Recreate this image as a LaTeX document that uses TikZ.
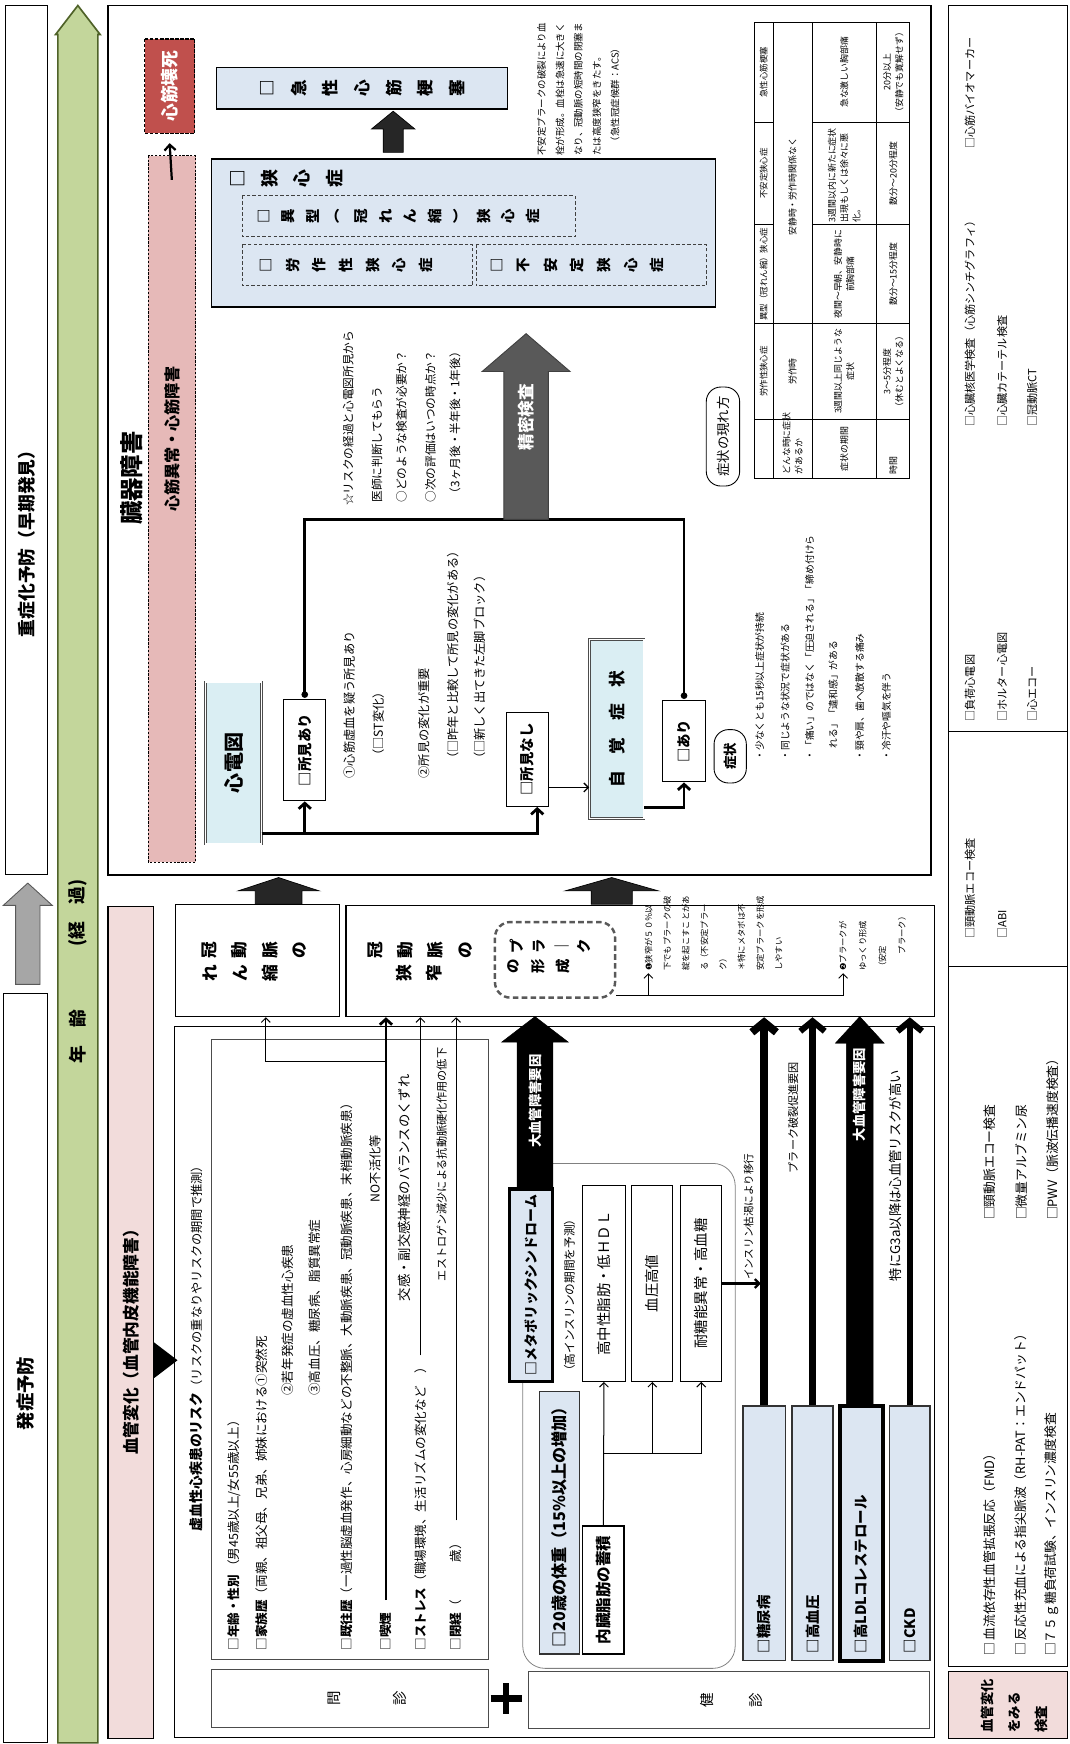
\documentclass[tikz,border=0pt]{standalone}
\usepackage{fontspec}
\setmainfont{Noto Sans CJK JP}
\newfontfamily\dejavu{DejaVu Sans}
\usetikzlibrary{arrows.meta}

\definecolor{hakoblue}{HTML}{DCE6F2}
\definecolor{hakocyan}{HTML}{DAEEF3}
\definecolor{kekkanpink}{HTML}{F2DCDB}
\definecolor{shinkinpink}{HTML}{E6B9B8}
\definecolor{eshired}{HTML}{C0504D}
\definecolor{keikagreen}{HTML}{C3D69B}
\definecolor{keikaline}{HTML}{4F6228}
\definecolor{yajigray}{HTML}{A6A6A6}
\definecolor{yajidark}{HTML}{262626}
\definecolor{seimitsu}{HTML}{595959}

\newcommand\fs[2]{\fontsize{#1}{#2}\selectfont}
\makeatletter
% 縦書きの文字列 {字送り}{文字}
\newcommand\tatechars[2]{\vbox{\offinterlineskip\@tfor\tt@ch:=#2\do{\vbox to #1{\vss\hbox to 1.2em{\hss\tt@ch\hss}\vss}}}}
\makeatother
% 箱矢印 [様式]{根元}{先端}{中心}{軸の半幅}{頭の半幅}{頭の長さ}
\newcommand\yajirushi[7][]{\filldraw[#1] (#2,#4-#5) -- (#3-#7,#4-#5) -- (#3-#7,#4-#6) -- (#3,#4) -- (#3-#7,#4+#6) -- (#3-#7,#4+#5) -- (#2,#4+#5) -- cycle;}

\begin{document}
\begin{tikzpicture}[x=1pt, y=-1pt, rotate=90, transform shape,
  >={Straight Barb[length=4pt,width=8pt]},
  waku/.style={draw, inner sep=0pt},
  moji/.style={inner sep=1pt, anchor=west},
  futosen/.style={line width=2.5pt},
  futoya/.style={line width=2.5pt, -{Straight Barb[length=5pt,width=11pt]}},
  gokubuto/.style={line width=5.5pt, -{Straight Barb[length=9pt,width=22pt]}},
  hoso/.style={line width=0.9pt, ->},
  tensen/.style={draw=black!75, dashed, dash pattern=on 3pt off 2pt, line width=0.7pt, inner sep=0pt},
  nijuu/.style={draw=black!70, double, double distance=1.3pt, line width=0.5pt, inner sep=0pt},
  hyo/.style={inner sep=0pt, font={\fs{8}{11}}, align=center}]

\useasboundingbox (0,0) rectangle (1568,962);

% 左の帯：重症化予防と発症予防
\node[waku, line width=0.8pt, minimum width=781pt, minimum height=38pt] (jushoka) at (1172.5,24) {};
\node[font={\fs{16}{16}\bfseries}] (jushokaT) at (1083,24) {重症化予防（早期発見）};
\yajirushi[fill=yajigray, draw=seimitsu, line width=0.8pt]{683}{774}{25}{11}{22}{20}
\node[waku, line width=0.8pt, minimum width=674pt, minimum height=40pt] (hassho) at (338,23) {};
\node[font={\fs{16.5}{16.5}\bfseries}] (hasshoT) at (315,23) {発症予防};

% 年齢（経過）の矢印
\yajirushi[fill=keikagreen, draw=keikaline, line width=1.5pt]{1}{1563}{70}{18}{20}{26}
\node[font={\fs{16}{16}\bfseries}] (nenrei) at (636,70) {年　齢};
\node[font={\fs{16}{16}\bfseries}] (keika) at (747,70) {(経　過)};

% 臓器障害の枠
\node[waku, line width=1.6pt, minimum width=782pt, minimum height=740pt] (zoki) at (1172,467) {};
\node[font={\fs{21}{21}\bfseries}] (zokiT) at (1138,118) {臓器障害};
\node[draw, dashed, dash pattern=on 2pt off 1.5pt, line width=0.6pt, fill=shinkinpink, inner sep=0pt,
  minimum width=635pt, minimum height=43pt] (shinkin) at (1110.5,154.5) {};
\node[font={\fs{14.5}{14.5}\bfseries}] (shinkinT) at (1173,155) {心筋異常・心筋障害};
\node[draw, dashed, dash pattern=on 3pt off 1.5pt, line width=1.5pt, fill=eshired, text=white, inner sep=0pt,
  minimum width=85pt, minimum height=45pt, font={\fs{16}{16}\bfseries}] (eshi) at (1490.5,152.5) {心筋壊死};
\draw[line width=2pt, -{Straight Barb[length=5pt,width=10pt]}] ([xshift=-22pt]shinkin.east) -- ([xshift=-8pt]eshi.west);

% 急性心筋梗塞と狭心症
\node[waku, line width=1pt, fill=hakoblue, minimum width=37pt, minimum height=261pt,
  font={\fs{15}{15}\bfseries}] (kyusei) at (1488.5,325.5) {\tatechars{28.5pt}{□急性心筋梗塞}};
\yajirushi[fill=yajidark, draw=black, line width=0.6pt]{1431}{1468}{353.5}{9}{19.5}{16}
\node[waku, line width=1.2pt, fill=hakoblue, minimum width=133pt, minimum height=453pt] (kyoshin) at (1358.5,416.5) {};
\node[font={\fs{16}{16}\bfseries}] (kyoshinT) at (1407,257) {\tatechars{29pt}{□狭心症}};
\node[tensen, minimum width=37pt, minimum height=299pt] (ikei) at (1373.5,367.5) {};
\node[font={\fs{13}{13}\bfseries}] (ikeiT) at (1373.5,358) {\tatechars{22pt}{□異型︵冠れん縮︶狭心症}};
\node[tensen, minimum width=37pt, minimum height=207pt] (rosaku) at (1329.5,321.5) {};
\node[font={\fs{13}{13}\bfseries}] (rosakuT) at (1329.5,311) {\tatechars{24pt}{□労作性狭心症}};
\node[tensen, minimum width=37pt, minimum height=207pt] (fuantei) at (1329.5,531.5) {};
\node[font={\fs{13}{13}\bfseries}] (fuanteiT) at (1329.5,519) {\tatechars{24pt}{□不安定狭心症}};

% 不安定プラークの説明
\node[font={\fs{8.5}{16.5}}, align=left, anchor=west, inner sep=0pt] (acs) at (1428,520)
  {不安定プラークの破裂により血\\栓が形成。血栓は急速に大きく\\なり、冠動脈の短時間の閉塞ま\\たは高度狭窄をきたす。\\　（急性冠症候群：ACS）};

% 症状の現れ方の表
\draw[line width=1pt] (1138,678) rectangle (1548,818);
\foreach \v in {695,730,788} \draw[line width=0.7pt] (1138,\v) -- (1548,\v);
\foreach \u in {1191,1277} \draw[line width=0.7pt] (\u,678) -- (\u,818);
\foreach \u in {1366,1458} {\draw[line width=0.7pt] (\u,678) -- (\u,695); \draw[line width=0.7pt] (\u,730) -- (\u,818);}
\node[hyo, font={\fs{7.6}{10}}] (h1) at (1234,686.5) {労作性狭心症};
\node[hyo, font={\fs{7.6}{10}}] (h2) at (1321.5,686.5) {異型（冠れん縮）狭心症};
\node[hyo, font={\fs{7.6}{10}}] (h3) at (1412,686.5) {不安定狭心症};
\node[hyo, font={\fs{7.6}{10}}] (h4) at (1503,686.5) {急性心筋梗塞};
\node[hyo, anchor=west, align=left] (r1a) at (1141,712.5) {どんな時に症状\\があるか};
\node[hyo] (r1b) at (1234,712.5) {労作時};
\node[hyo] (r1c) at (1400,712.5) {安静時・労作時関係なく};
\node[hyo] (r2a) at (1164.5,759) {症状の期間};
\node[hyo] (r2b) at (1234,759) {3週間以上同じような\\症状};
\node[hyo] (r2c) at (1321.5,759) {夜間～早朝、安静時に\\前胸部痛};
\node[hyo, anchor=west, align=left] (r2d) at (1368,759) {3週間以内に新たに症状\\出現もしくは徐々に悪\\化。};
\node[hyo] (r2e) at (1503,759) {急な激しい胸部痛};
\node[hyo, anchor=west] (r3a) at (1141,803) {時間};
\node[hyo] (r3b) at (1234,803) {3～5分程度\\（休むとよくなる）};
\node[hyo] (r3c) at (1321.5,803) {数分～15分程度};
\node[hyo] (r3d) at (1412,803) {数分～20分程度};
\node[hyo] (r3e) at (1503,803) {20分以上\\（安静でも寛解せず）};
\node[draw, rounded corners=13pt, line width=0.8pt, inner sep=0pt, minimum width=89pt, minimum height=30pt,
  font={\fs{12}{12}}] (arawarekata) at (1175.5,650) {症状の現れ方};

% 心電図と自覚症状
\node[nijuu, fill=hakocyan, minimum width=146pt, minimum height=50pt, font={\fs{18}{18}\bfseries}] (ecg) at (882,210) {心電図};
\node[waku, line width=1pt, minimum width=91pt, minimum height=38pt, font={\fs{13}{13}\bfseries}] (shokenari) at (893.5,274) {□所見あり};
\node[waku, line width=1pt, minimum width=84pt, minimum height=38pt, font={\fs{13}{13}\bfseries}] (shokennashi) at (885,474) {□所見なし};
\node[nijuu, fill=hakocyan, minimum width=161pt, minimum height=49pt, font={\fs{15}{15}\bfseries}] (jikaku) at (912.5,554.5) {自　覚　症　状};
\node[waku, line width=1pt, minimum width=73pt, minimum height=38pt, font={\fs{13}{13}\bfseries}] (ari) at (901.5,615) {□あり};
\node[draw, rounded corners=13pt, line width=0.8pt, inner sep=0pt, minimum width=48pt, minimum height=29pt,
  font={\fs{12}{12}\bfseries}] (shojo) at (888,656.5) {症状};

\coordinate (ecgout) at ([xshift=10pt]ecg.south west);
\draw[futoya] (ecgout) |- (shokenari.west);
\draw[futoya] (ecgout) |- ([yshift=-9pt]shokennashi.west);
\coordinate (nashiout) at ([xshift=-25pt]shokennashi.south);
\draw[line width=1.2pt, ->] (nashiout) -- (nashiout |- jikaku.north);
\coordinate (jikakuout) at ([xshift=-70.5pt]jikaku.south);
\draw[futoya] (jikakuout) |- (ari.west);

% 精密検査へ
\coordinate (dotA) at ([xshift=4pt]shokenari.east);
\coordinate (dotB) at ([xshift=4pt]ari.east);
\coordinate (seimitsuA) at (1101,274);
\coordinate (seimitsuB) at (1101,615);
\fill (dotA) circle (3pt);
\fill (dotB) circle (3pt);
\draw[futosen] (dotA) -- (seimitsuA) -- (seimitsuB) -- (dotB);
\yajirushi[fill=seimitsu, draw=black!75, line width=0.8pt]{1101}{1268}{473}{20}{39.5}{34}
\node[text=white, font={\fs{15}{15}\bfseries}] (seimitsuT) at (1193,473) {精密検査};

\node[moji, font={\fs{11}{11}}] (m1) at (867,314) {①心筋虚血を疑う所見あり};
\node[moji, font={\fs{11}{11}}] (m2) at (882,340) {（□ST変化）};
\node[moji, font={\fs{11}{11}}] (m3) at (867,381) {②所見の変化が重要};
\node[moji, font={\fs{11}{11}}] (m4) at (879,407) {（□昨年と比較して所見の変化がある）};
\node[moji, font={\fs{11}{11}}] (m5) at (879,431) {（□新しく出てきた左脚ブロック）};
\node[moji, font={\fs{10.5}{10.5}}] (k1) at (1112,313) {☆リスクの経過と心電図所見から};
\node[moji, font={\fs{10.5}{10.5}}] (k2) at (1115,339) {医師に判断してもらう};
\node[moji, font={\fs{10.5}{10.5}}] (k3) at (1115,361) {○どのような検査が必要か？};
\node[moji, font={\fs{10.5}{10.5}}] (k4) at (1115,387) {○次の評価はいつの時点か？};
\node[moji, font={\fs{10.5}{10.5}}] (k5) at (1118,409) {（3ヶ月後・半年後・1年後）};

\node[moji, font={\fs{8.8}{8.8}}] (s1) at (883,683) {・少なくとも15秒以上症状が持続};
\node[moji, font={\fs{8.8}{8.8}}] (s2) at (883,706) {・同じような状況で症状がある};
\node[moji, font={\fs{8.8}{8.8}}] (s3) at (883,728) {・「痛い」のではなく「圧迫される」「締め付けら};
\node[moji, font={\fs{8.8}{8.8}}] (s4) at (894,749) {れる」「違和感」がある};
\node[moji, font={\fs{8.8}{8.8}}] (s5) at (883,773) {・頸や肩、歯へ放散する痛み};
\node[moji, font={\fs{8.8}{8.8}}] (s6) at (883,797) {・冷汗や嘔気を伴う};

% 冠動脈のれん縮・狭窄
\yajirushi[fill=yajidark, draw=black, line width=0.6pt]{755}{779}{250.5}{21}{36.5}{12}
\yajirushi[fill=yajidark, draw=black, line width=0.6pt]{755}{779}{550}{18.5}{42}{12}
\node[waku, line width=1.2pt, minimum width=101pt, minimum height=147pt] (renshuku) at (704.5,231.5) {};
\node[font={\fs{15}{15}\bfseries}] (renshukuA) at (714,229) {\tatechars{27pt}{冠動脈の}};
\node[font={\fs{15}{15}\bfseries}] (renshukuB) at (693,216) {\tatechars{27pt}{れん縮}};
\node[waku, line width=1.2pt, minimum width=100pt, minimum height=529pt] (kyosaku) at (704,575.5) {};
\node[font={\fs{15}{15}\bfseries}] (kyosakuA) at (714,378) {\tatechars{27pt}{冠動脈の}};
\node[font={\fs{15}{15}\bfseries}] (kyosakuB) at (693,377) {\tatechars{27pt}{狭窄}};
\node[draw=seimitsu, dashed, dash pattern=on 5pt off 3pt, line width=2.2pt, rounded corners=14pt, inner sep=0pt,
  minimum width=68pt, minimum height=108pt] (plaque) at (705,499) {};
\node[font={\fs{13}{13}\bfseries}] (plaqueA) at (717,495) {\tatechars{20pt}{プラ｜ク}};
\node[font={\fs{13}{13}\bfseries}] (plaqueB) at (699,484) {\tatechars{22pt}{の形成}};

\coordinate (plout) at ([xshift=-32pt]plaque.south);
\coordinate (ichi) at (693,583);
\coordinate (ni) at (693,758);
\draw[line width=0.8pt, ->] (plout) -- (plout |- ni) -- (ni);
\draw[line width=0.8pt, ->] (plout |- ichi) -- (ichi);
\node[moji, inner sep=0pt, font={\fs{7.5}{16.7}}, align=left] (ichiT) at (695,641.5)
  {{\dejavu ❶}狭窄が５０％以\\下でもプラークの破\\綻を起こすことがあ\\る（不安定プラー\\ク）\\＊特にメタボは不\\安定プラークを形成\\しやすい};
\node[moji, inner sep=0pt, font={\fs{7.5}{17.7}}, align=left] (niT) at (695,784.5)
  {{\dejavu ❷}プラークが\\ゆっくり形成\\（安定\\　　プラーク）};

% 血管変化（血管内皮機能障害）
\node[waku, line width=1.2pt, fill=kekkanpink, minimum width=748pt, minimum height=41pt] (kekkan) at (379,117.5) {};
\node[font={\fs{15}{15}\bfseries}] (kekkanT) at (365,117.5) {血管変化（血管内皮機能障害）};
\coordinate (sankaku) at ([xshift=-34pt]kekkan.south);
\fill ([xshift=-16pt]sankaku) -- ([xshift=16pt]sankaku) -- ([yshift=-21pt]sankaku) -- cycle;

% 問診と健診の大枠
\node[waku, line width=1pt, minimum width=639pt, minimum height=683pt] (ookiwaku) at (325.5,498.5) {};
\node[moji] (riskT) at (190,176) {{\fs{12.5}{12.5}\bfseries 虚血性心疾患のリスク}{\fs{11}{11}（リスクの重なりやリスクの期間で推測）}};
\node[waku, draw=black!70, line width=0.8pt, minimum width=557pt, minimum height=249pt] (monshin) at (354.5,314.5) {};
\node[moji, font={\fs{11.3}{11.3}}] (q1) at (83,211) {□\textbf{年齢・性別}\,（男45歳以上/女55歳以上）};
\node[moji, font={\fs{11.3}{11.3}}] (q2) at (83,235) {□\textbf{家族歴}（両親、祖父母、兄弟、姉妹における①突然死};
\node[moji, font={\fs{11.3}{11.3}}] (q3) at (312,259) {②若年発症の虚血性心疾患};
\node[moji, font={\fs{11.3}{11.3}}] (q4) at (312,283) {③高血圧、糖尿病、脂質異常症};
\node[moji, font={\fs{11.3}{11.3}}] (q5) at (83,312) {□\textbf{既往歴}（一過性脳虚血発作、心房細動などの不整脈、大動脈疾患、冠動脈疾患、末梢動脈疾患）};
\node[moji, font={\fs{11.3}{11.3}}] (kitsuen) at (83,347) {□\textbf{喫煙}};
\node[moji, font={\fs{11.3}{11.3}}] (stress) at (83,378) {□\textbf{ストレス}（職場環境、生活リズムの変化など　）};
\node[moji, font={\fs{11.3}{11.3}}] (heikei) at (83,410) {□\textbf{閉経}（　　　歳）};
\node[moji, font={\fs{11}{11}}] (noT) at (486,337) {NO不活化等};
\node[moji, font={\fs{12}{12}}] (kokanT) at (397,364) {交感・副交感神経のバランスのくずれ};
\node[moji, font={\fs{10}{10}}] (estroT) at (415,397) {エストロゲン減少による抗動脈硬化作用の低下};

\coordinate (kitsuenout) at ([xshift=10pt]kitsuen.east);
\draw[futoya] (kitsuenout) -- (kitsuenout -| kyosaku.west);
\coordinate (bunki) at (614,348);
\draw[hoso] (bunki) |- ([yshift=-7.5pt]renshuku.west);
\draw[hoso] ([xshift=4pt]stress.east) -- (stress.east -| kyosaku.west);
\draw[hoso] ([xshift=14pt]heikei.east) -- (heikei.east -| kyosaku.west);

\node[waku, draw=black!70, line width=0.8pt, minimum width=52pt, minimum height=249pt] (monshinL) at (41,314.5) {};
\node[font={\fs{13}{13}}] (monshinT) at (41,330.5) {\tatechars{59pt}{問診}};
\coordinate (purasu) at (41,455);
\draw[line width=6pt] ([yshift=14pt]purasu) -- ([yshift=-14pt]purasu);
\draw[line width=6pt] ([xshift=-14pt]purasu) -- ([xshift=14pt]purasu);
\node[waku, draw=black!70, line width=0.8pt, minimum width=51pt, minimum height=361pt] (kenshinL) at (39.5,655.5) {};
\node[font={\fs{13}{13}}] (kenshinT) at (39.5,658) {\tatechars{44pt}{健診}};

% 健診の項目
\node[draw=black!50, line width=0.7pt, rounded corners=20pt, inner sep=0pt, minimum width=454pt, minimum height=191pt] (metawaku) at (295,565.5) {};
\node[waku, draw=black!80, line width=1.2pt, fill=hakoblue, minimum width=236pt, minimum height=36pt] (taiju) at (199,503) {};
\node[moji, font={\fs{14.5}{14.5}\bfseries}] (taijuT) at ([xshift=5pt]taiju.west) {□20歳の体重（15\%以上の増加）};
\node[waku, line width=1.2pt, fill=white, minimum width=115pt, minimum height=37pt, font={\fs{14}{14}\bfseries}] (naizo) at (138.5,542.5) {内臓脂肪の蓄積};
\node[waku, line width=3pt, fill=hakoblue, minimum width=173pt, minimum height=39pt, font={\fs{12.5}{12.5}\bfseries}] (metabo) at (412.5,477.5) {□メタボリックシンドローム};
\node[moji, font={\fs{10.5}{10.5}}] (koinsulin) at (329,512) {（高インスリンの期間を予測）};
\yajirushi[fill=black, draw=black]{499}{654}{481}{16}{30}{23}
\node[text=white, font={\fs{12}{12}\bfseries}] (daikekkanA) at (578,481) {大血管障害要因};
\node[waku, line width=1pt, minimum width=176pt, minimum height=38pt, font={\fs{13}{13}}] (tg) at (414,543) {高中性脂肪・低ＨＤＬ};
\node[waku, line width=1pt, minimum width=176pt, minimum height=37pt, font={\fs{13}{13}}] (ketsuatsu) at (414,586.5) {血圧高値};
\node[waku, line width=1pt, minimum width=176pt, minimum height=37pt, font={\fs{13}{13}}] (taito) at (414,630.5) {耐糖能異常・高血糖};
\coordinate (naizoout) at ([xshift=65pt]naizo.east);
\draw[hoso] (naizo.east) -- (tg.west);
\draw[hoso] (naizoout) |- (ketsuatsu.west);
\draw[hoso] (naizoout) |- (taito.west);

\node[waku, draw=black!80, line width=1.2pt, fill=hakoblue, minimum width=229pt, minimum height=38pt] (tonyo) at (189.5,687) {};
\node[waku, draw=black!80, line width=1.2pt, fill=hakoblue, minimum width=229pt, minimum height=37pt] (koketsu) at (189.5,730.5) {};
\node[waku, line width=3.5pt, fill=hakoblue, minimum width=229pt, minimum height=39pt] (ldl) at (189.5,774.5) {};
\node[waku, draw=black!80, line width=1.2pt, fill=hakoblue, minimum width=229pt, minimum height=36pt] (ckd) at (189.5,818) {};
\node[moji, font={\fs{13}{13}\bfseries}] (tonyoT) at ([xshift=6pt]tonyo.west) {□糖尿病};
\node[moji, font={\fs{13}{13}\bfseries}] (koketsuT) at ([xshift=6pt]koketsu.west) {□高血圧};
\node[moji, font={\fs{13}{13}\bfseries}] (ldlT) at ([xshift=7pt]ldl.west) {□高LDLコレステロール};
\node[moji, font={\fs{13}{13}\bfseries}] (ckdT) at ([xshift=6pt]ckd.west) {□CKD};

\draw[gokubuto, line width=7pt] (tonyo.east) -- (tonyo.east -| kyosaku.west);
\draw[gokubuto] (koketsu.east) -- (koketsu.east -| kyosaku.west);
\draw[gokubuto] (ckd.east) -- (ckd.east -| kyosaku.west);
\yajirushi[fill=black, draw=black]{304}{654}{773}{12}{22}{24}
\node[text=white, font={\fs{12}{12}\bfseries}] (daikekkanB) at (584,773) {大血管障害要因};
\draw[line width=2pt, ->, shorten >=3pt] (taito.south) -- (taito.south |- tonyo.east);
\node[moji, font={\fs{9.5}{9.5}}] (koketsuT2) at (416,673) {インスリン枯渇により移行};
\node[moji, font={\fs{10}{10}}] (hakuretsu) at (512,713) {プラーク破裂促進要因};
\node[moji, font={\fs{12}{12}}] (g3a) at (415,805) {特にG3a以降は心血管リスクが高い};

% 右の列：検査
\node[waku, line width=0.8pt, minimum width=1493pt, minimum height=107pt] (kensa) at (816.5,906.5) {};
\draw[line width=0.8pt] (910,853) -- (910,960);
\draw[line width=0.8pt] (699,853) -- (699,960);
\node[waku, line width=1.2pt, fill=kekkanpink, minimum width=60pt, minimum height=107pt] (kensaL) at (35,906.5) {};
\node[moji, inner sep=0pt, font={\fs{12}{24}\bfseries}, align=left] (kensaLT) at (10,912) {血管変化\\をみる\\検査};
\node[moji, font={\fs{10}{10}}] (t1) at (1433,872) {□心筋バイオマーカー};
\node[moji, font={\fs{10}{10}}] (t2) at (1183,872) {□心臓核医学検査（心筋シンチグラフィ）};
\node[moji, font={\fs{10}{10}}] (t3) at (1183,901) {□心臓カテーテル検査};
\node[moji, font={\fs{10}{10}}] (t4) at (1183,928) {□冠動脈CT};
\node[moji, font={\fs{10}{10}}] (t5) at (918,872) {□負荷心電図};
\node[moji, font={\fs{10}{10}}] (t6) at (918,901) {□ホルター心電図};
\node[moji, font={\fs{10}{10}}] (t7) at (918,928) {□心エコー};
\node[moji, font={\fs{10}{10}}] (t8) at (723,872) {□頸動脈エコー検査};
\node[moji, font={\fs{10}{10}}] (t9) at (723,901) {□ABI};
\node[moji, font={\fs{11.5}{11.5}}] (t10) at (470,890) {□頸動脈エコー検査};
\node[moji, font={\fs{11.5}{11.5}}] (t11) at (470,918) {□微量アルブミン尿};
\node[moji, font={\fs{11.5}{11.5}}] (t12) at (470,946) {□PWV（脈波伝播速度検査）};
\node[moji, font={\fs{11.5}{11.5}}] (t13) at (78,890) {□ 血流依存性血管拡張反応（FMD）};
\node[moji, font={\fs{11.5}{11.5}}] (t14) at (78,918) {□ 反応性充血による指尖脈波（RH-PAT：エンドパット）};
\node[moji, font={\fs{11.5}{11.5}}] (t15) at (78,946) {□７５ｇ糖負荷試験、インスリン濃度検査};

\end{tikzpicture}
\end{document}
